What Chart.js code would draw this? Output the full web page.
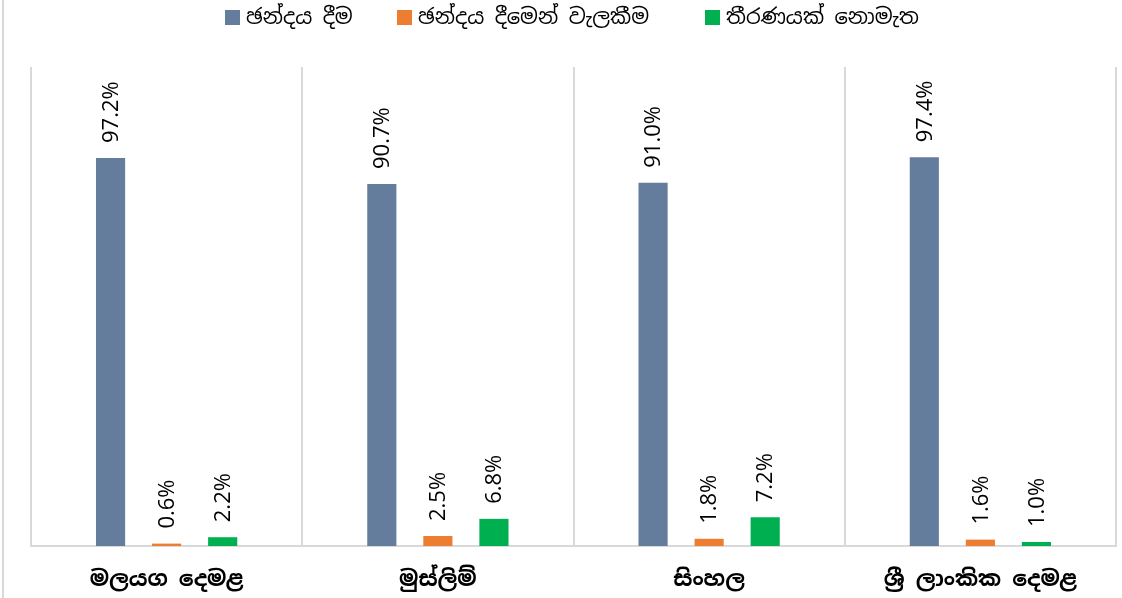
<!DOCTYPE html>
<html>
<head>
<meta charset="utf-8">
<script src="https://cdn.jsdelivr.net/npm/chart.js@4/dist/chart.umd.min.js"></script>
<style>
  html, body { margin: 0; padding: 0; background: #ffffff; }
  #wrap { position: relative; width: 1122px; height: 598px; }
  #frame { position: absolute; left: 2px; top: 0; width: 2px; height: 598px; background: #d9d9d9; }
  canvas { position: absolute; left: 0; top: 0; }
</style>
</head>
<body>
<div id="wrap">
  <div id="frame"></div>
  <canvas id="c" width="1122" height="598"></canvas>
</div>
<script>
const categories = ["මලයග දෙමළ", "මුස්ලිම්", "සිංහල", "ශ්‍රී ලාංකික දෙමළ"];
const seriesNames = ["ඡන්දය දීම", "ඡන්දය දීමෙන් වැලකීම", "තීරණයක් නොමැත"];
const votingValues = [97.2, 90.7, 91.0, 97.4];
const abstainValues = [0.6, 2.5, 1.8, 1.6];
const undecidedValues = [2.2, 6.8, 7.2, 1.0];
const seriesColors = ["#647d9c", "#ed7d31", "#00b050"];

const sinhalaFont = "'Noto Sans Sinhala', 'Iskoola Pota', 'Noto Sans', sans-serif";

const valueLabels = {
  id: 'valueLabels',
  afterDatasetsDraw(chart) {
    const ctx = chart.ctx;
    ctx.save();
    ctx.fillStyle = '#000000';
    ctx.font = "22px 'Open Sans', 'Liberation Sans', sans-serif";
    ctx.textAlign = 'left';
    ctx.textBaseline = 'middle';
    chart.data.datasets.forEach((ds, di) => {
      const meta = chart.getDatasetMeta(di);
      meta.data.forEach((bar, i) => {
        const v = ds.data[i];
        ctx.save();
        ctx.translate(bar.x + 1, bar.y - 15);
        ctx.rotate(-Math.PI / 2);
        ctx.fillText(v.toFixed(1) + '%', 0, 0);
        ctx.restore();
      });
    });
    ctx.restore();
  }
};

// Custom legend drawn at the top, item positions matching the reference layout
const topLegend = {
  id: 'topLegend',
  afterDraw(chart) {
    const ctx = chart.ctx;
    const starts = [225, 397, 705];
    const cy = 18;
    ctx.save();
    ctx.font = "21px " + sinhalaFont;
    ctx.textAlign = 'left';
    ctx.textBaseline = 'middle';
    chart.data.datasets.forEach((ds, i) => {
      const x = starts[i];
      ctx.fillStyle = ds.backgroundColor;
      ctx.fillRect(x, cy - 8, 15, 15);
      ctx.fillStyle = '#000000';
      ctx.fillText(ds.label, x + 21, cy);
    });
    ctx.restore();
  }
};

new Chart(document.getElementById('c'), {
  type: 'bar',
  data: {
    labels: categories,
    datasets: [
      { label: seriesNames[0], data: votingValues, backgroundColor: seriesColors[0] },
      { label: seriesNames[1], data: abstainValues, backgroundColor: seriesColors[1] },
      { label: seriesNames[2], data: undecidedValues, backgroundColor: seriesColors[2] }
    ]
  },
  options: {
    responsive: false,
    animation: false,
    devicePixelRatio: 1,
    categoryPercentage: 0.62,
    barPercentage: 0.52,
    layout: { padding: { left: 31, right: 6, top: 67, bottom: 0 } },
    plugins: {
      legend: { display: false },
      tooltip: { enabled: false }
    },
    scales: {
      x: {
        offset: true,
        grid: { display: true, offset: true, color: '#d9d9d9', lineWidth: 2, drawTicks: false },
        border: { display: true, color: '#d9d9d9', width: 2 },
        ticks: {
          color: '#000000',
          padding: 21,
          font: { size: 22, weight: 'bold', family: sinhalaFont }
        },
        afterFit(scale) { scale.height = 52; }
      },
      y: {
        display: false,
        min: 0,
        max: 120
      }
    }
  },
  plugins: [valueLabels, topLegend]
});
</script>
</body>
</html>
